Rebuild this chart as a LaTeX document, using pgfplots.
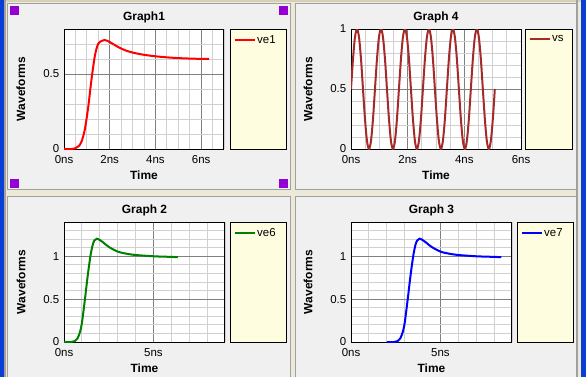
\documentclass[border=0pt]{standalone}
\usepackage{fontspec}
\setmainfont{Liberation Sans}
\usepackage{pgfplots}
\usepackage{pgfplotstable}
\pgfplotsset{compat=1.18}

\definecolor{winbg}{HTML}{ECE9D8}
\definecolor{wintan}{HTML}{D6D0B8}
\definecolor{panelbg}{HTML}{F0F0F0}
\definecolor{panelborder}{HTML}{A0A0A0}
\definecolor{winblue}{HTML}{0A3FD6}
\definecolor{handle}{HTML}{9400D3}
\definecolor{legendfill}{HTML}{FFFDE0}
\definecolor{majgrid}{HTML}{808080}
\definecolor{mingrid}{HTML}{D0D0D0}
\definecolor{vsbrown}{HTML}{A52A2A}
\definecolor{wavegreen}{HTML}{008000}

\pgfplotstableread{
t v
0 0
0.33 0
0.5 0.005
0.65 0.02
0.77 0.05
0.91 0.13
1.06 0.28
1.2 0.46
1.35 0.62
1.49 0.70
1.64 0.72
1.78 0.727
2.0 0.713
2.2 0.695
2.43 0.675
2.7 0.657
3.0 0.643
3.5 0.628
4.0 0.618
4.5 0.611
5.0 0.606
5.7 0.602
6.35 0.600
}\veone

\pgfplotstableread{
t v
0 0
0.4 0
0.6 0.01
0.75 0.04
0.9 0.12
1.0 0.22
1.1 0.38
1.2 0.55
1.3 0.73
1.4 0.89
1.5 1.03
1.6 1.13
1.7 1.185
1.83 1.205
2.0 1.19
2.2 1.16
2.5 1.11
3.0 1.055
3.5 1.03
4.0 1.015
5.0 1.0
5.7 0.995
6.36 0.99
}\vesix

\pgfplotstableread{
t v
2.0 0
2.4 0
2.6 0.01
2.75 0.04
2.9 0.12
3.0 0.22
3.1 0.38
3.2 0.55
3.3 0.73
3.4 0.89
3.5 1.03
3.6 1.13
3.7 1.185
3.83 1.205
4.0 1.19
4.2 1.16
4.5 1.11
5.0 1.055
5.5 1.03
6.0 1.015
7.0 1.0
7.7 0.995
8.4 0.99
}\veseven

\pgfplotstableread{
t v
0.000 0.5
0.071 0.75
0.141 0.933
0.212 1
0.282 0.933
0.353 0.75
0.423 0.5
0.494 0.25
0.564 0.067
0.635 0
0.705 0.067
0.776 0.25
0.846 0.5
0.917 0.75
0.987 0.933
1.058 1
1.128 0.933
1.199 0.75
1.269 0.5
1.340 0.25
1.410 0.067
1.481 0
1.551 0.067
1.622 0.25
1.692 0.5
1.763 0.75
1.833 0.933
1.904 1
1.974 0.933
2.045 0.75
2.115 0.5
2.186 0.25
2.256 0.067
2.327 0
2.397 0.067
2.468 0.25
2.538 0.5
2.609 0.75
2.679 0.933
2.750 1
2.820 0.933
2.891 0.75
2.961 0.5
3.032 0.25
3.102 0.067
3.173 0
3.243 0.067
3.314 0.25
3.384 0.5
3.455 0.75
3.525 0.933
3.596 1
3.666 0.933
3.737 0.75
3.807 0.5
3.878 0.25
3.948 0.067
4.019 0
4.089 0.067
4.160 0.25
4.230 0.5
4.301 0.75
4.371 0.933
4.442 1
4.512 0.933
4.583 0.75
4.653 0.5
4.724 0.25
4.794 0.067
4.865 0
4.935 0.067
5.006 0.25
5.076 0.5
}\vs

\pgfplotsset{
  panel/.style={
    scale only axis,
    height=120bp,
    xmin=0, ymin=0,
    axis line style={black, line width=1bp},
    major tick length=0pt, minor tick length=0pt,
    grid=both,
    major grid style={draw=majgrid, line width=0.8bp},
    minor grid style={draw=mingrid, line width=0.8bp},
    axis background/.style={fill=white},
    tick label style={font=\fontsize{11.5}{12}\selectfont, text=black},
    xticklabel style={anchor=base, yshift=-14.5bp, inner sep=0pt},
    yticklabel style={anchor=east, xshift=-4.5bp, inner sep=0pt},
    every axis title shift=0pt,
    title style={font=\bfseries\fontsize{12}{14}\selectfont, at={(axis description cs:0.5,1)}, anchor=base, yshift=8.5bp},
    xlabel style={font=\bfseries\fontsize{12}{14}\selectfont, at={(axis description cs:0.5,0)}, anchor=base, yshift=-30bp},
    ylabel style={font=\bfseries\fontsize{12}{14}\selectfont, anchor=center},
    xlabel={Time}, ylabel={Waveforms},
    legend style={at={(axis description cs:1,1)}, anchor=north west, draw=none, fill=none,
      inner sep=0pt, yshift=-4.5bp, font=\fontsize{11.5}{12}\selectfont,
      nodes={inner sep=1.5bp}},
    legend cell align=left,
    legend image code/.code={\draw[#1, line width=2bp] (0bp,0bp) -- (20bp,0bp);},
    every axis plot/.append style={line width=2bp, smooth},
  }
}

\begin{document}
\begin{tikzpicture}
\path[use as bounding box] (0bp,0bp) rectangle (586bp,-377bp);
% window background
\fill[winbg] (0bp,0bp) rectangle (586bp,-377bp);
\fill[wintan] (0bp,0bp) rectangle (586bp,-2bp);
\fill[winblue] (0bp,0bp) rectangle (4bp,-377bp);
\fill[panelborder] (4bp,0bp) rectangle (6bp,-377bp);
\fill[winblue] (581bp,0bp) rectangle (586bp,-377bp);
\fill[panelborder] (576bp,0bp) rectangle (578bp,-377bp);
% panels
\filldraw[fill=panelbg, draw=panelborder, line width=1bp] (7.5bp,-3.5bp) rectangle (290.5bp,-189.5bp);
\filldraw[fill=panelbg, draw=panelborder, line width=1bp] (295.5bp,-3.5bp) rectangle (576bp,-189.5bp);
\filldraw[fill=panelbg, draw=panelborder, line width=1bp] (7.5bp,-196.5bp) rectangle (290.5bp,-380bp);
\filldraw[fill=panelbg, draw=panelborder, line width=1bp] (295.5bp,-196.5bp) rectangle (576bp,-380bp);
% selection handles
\fill[handle] (10bp,-6bp) rectangle (19bp,-15bp);
\fill[handle] (279bp,-6bp) rectangle (288bp,-15bp);
\fill[handle] (10bp,-179bp) rectangle (19bp,-188bp);
\fill[handle] (279bp,-179bp) rectangle (288bp,-188bp);
% legend boxes
\filldraw[fill=legendfill, draw=black, line width=1bp] (230bp,-29bp) rectangle (286bp,-149bp);
\filldraw[fill=legendfill, draw=black, line width=1bp] (525bp,-29bp) rectangle (572bp,-149bp);
\filldraw[fill=legendfill, draw=black, line width=1bp] (230bp,-222bp) rectangle (286bp,-342bp);
\filldraw[fill=legendfill, draw=black, line width=1bp] (517bp,-222bp) rectangle (573bp,-342bp);

% Graph1
\begin{axis}[panel, at={(64bp,-149bp)}, anchor=south west, width=160bp,
  xmax=7, ymax=0.8,
  xtick={0,2,4,6}, xticklabels={0ns,2ns,4ns,6ns},
  ytick={0,0.5}, yticklabels={0,0.5},
  minor xtick={0.5,1,...,7}, minor ytick={0.1,0.2,0.3,0.4,0.6,0.7,0.8},
  title={Graph1},
  ylabel style={at={(axis description cs:-0.269,0.5)}},
  legend style={xshift=9.5bp}]
\addplot[red] table[x=t,y=v] {\veone};
\addlegendentry{ve1}
\end{axis}

% Graph 4
\begin{axis}[panel, at={(351bp,-149bp)}, anchor=south west, width=170bp,
  xmax=6, ymax=1,
  xtick={0,2,4,6}, xticklabels={0ns,2ns,4ns,6ns},
  ytick={0,0.5,1}, yticklabels={0,0.5,1},
  minor xtick={0.5,1,...,6}, minor ytick={0.1,0.2,0.3,0.4,0.6,0.7,0.8,0.9},
  title={Graph 4},
  ylabel style={at={(axis description cs:-0.253,0.5)}},
  legend style={xshift=7.5bp}]
\addplot[vsbrown] table[x=t,y=v] {\vs};
\addlegendentry{vs}
\end{axis}

% Graph 2
\begin{axis}[panel, at={(64bp,-342bp)}, anchor=south west, width=161bp,
  xmax=9, ymax=1.4,
  xtick={0,5}, xticklabels={0ns,5ns},
  ytick={0,0.5,1}, yticklabels={0,0.5,1},
  minor xtick={1,2,...,9}, minor ytick={0.1,0.2,0.3,0.4,0.6,0.7,0.8,0.9,1.1,1.2,1.3,1.4},
  title={Graph 2},
  ylabel style={at={(axis description cs:-0.267,0.5)}},
  legend style={xshift=8.5bp}]
\addplot[wavegreen] table[x=t,y=v] {\vesix};
\addlegendentry{ve6}
\end{axis}

% Graph 3
\begin{axis}[panel, at={(351bp,-342bp)}, anchor=south west, width=161bp,
  xmax=9, ymax=1.4,
  xtick={0,5}, xticklabels={0ns,5ns},
  ytick={0,0.5,1}, yticklabels={0,0.5,1},
  minor xtick={1,2,...,9}, minor ytick={0.1,0.2,0.3,0.4,0.6,0.7,0.8,0.9,1.1,1.2,1.3,1.4},
  title={Graph 3},
  ylabel style={at={(axis description cs:-0.267,0.5)}},
  legend style={xshift=8.5bp}]
\addplot[blue] table[x=t,y=v] {\veseven};
\addlegendentry{ve7}
\end{axis}
\end{tikzpicture}
\end{document}
